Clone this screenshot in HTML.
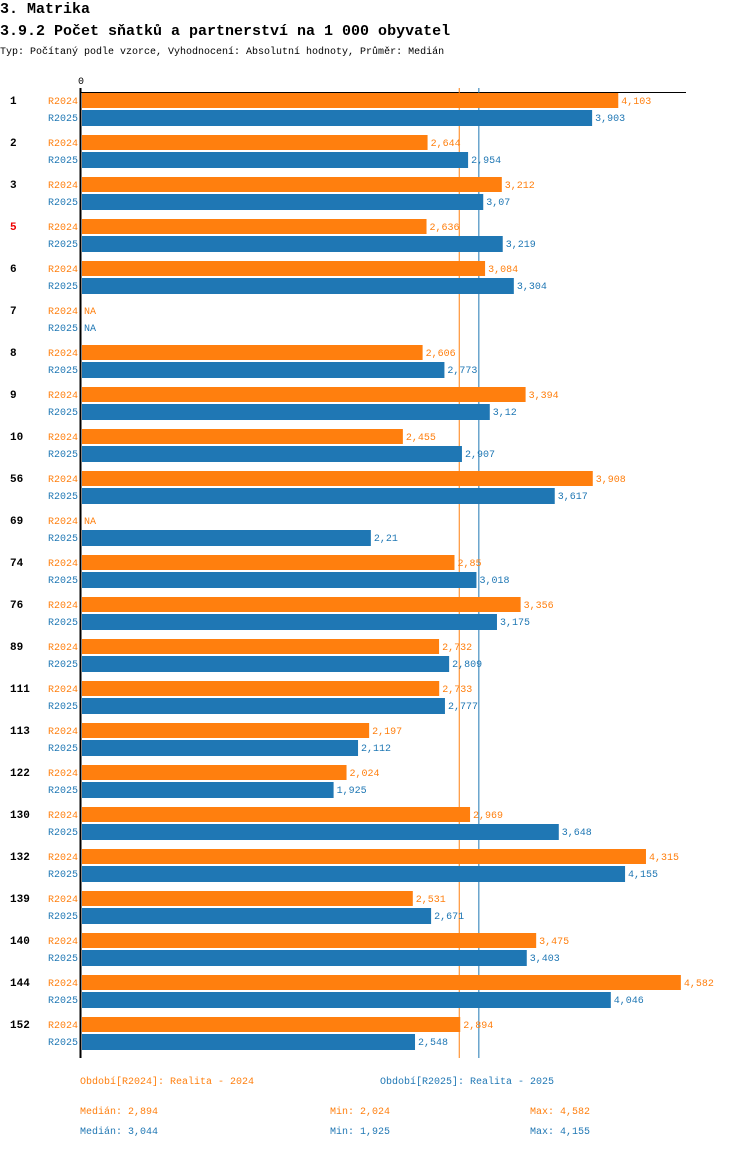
<!DOCTYPE html>
<html><head><meta charset="utf-8"><style>
body{margin:0;background:#fff;width:750px;height:1148px;overflow:hidden;font-family:"Liberation Mono",monospace}
svg text{font-family:"Liberation Mono",monospace}
</style></head><body>
<svg id="c" width="750" height="1148" xmlns="http://www.w3.org/2000/svg">
<text x="0" y="13" font-size="15" font-weight="bold">3. Matrika</text>
<text x="0" y="35" font-size="15" font-weight="bold">3.9.2 Počet sňatků a partnerství na 1 000 obyvatel</text>
<text x="0" y="54" font-size="10">Typ: Počítaný podle vzorce, Vyhodnocení: Absolutní hodnoty, Průměr: Medián</text>
<g id="g"></g>
</svg>
<script>
const categories=["1","2","3","5","6","7","8","9","10","56","69","74","76","89","111","113","122","130","132","139","140","144","152"];
const highlight=["5"];
const r2024=[4.103,2.644,3.212,2.636,3.084,null,2.606,3.394,2.455,3.908,null,2.85,3.356,2.732,2.733,2.197,2.024,2.969,4.315,2.531,3.475,4.582,2.894];
const r2025=[3.903,2.954,3.07,3.219,3.304,null,2.773,3.12,2.907,3.617,2.21,3.018,3.175,2.809,2.777,2.112,1.925,3.648,4.155,2.671,3.403,4.046,2.548];
const seriesNames=["R2024","R2025"];
const medians=[2.894,3.044];
const mins=[2.024,1.925];
const maxs=[4.582,4.155];
const legendLabels=["Období[R2024]: Realita - 2024","Období[R2025]: Realita - 2025"];
const colors=["#ff7f0e","#1f77b4"];
const X0=82,SC=130.7;
const x=v=>X0+v*SC;
const rowY=i=>93+42*i;
const g=document.getElementById('g');
const NS="http://www.w3.org/2000/svg";
function mk(t,a,txt){const e=document.createElementNS(NS,t);for(const k in a)e.setAttribute(k,a[k]);if(txt!=null)e.textContent=txt;g.appendChild(e);return e;}
const fmt=v=>String(v).replace('.',',');
let e;
e=mk('text',{x:78,y:84,'font-size':10},'0');


e=mk('line',{x1:80,y1:92.5,x2:686,y2:92.5,stroke:'#000','stroke-width':1});


medians.forEach((m,k)=>{
  e=mk('line',{x1:x(m)-1,y1:88,x2:x(m)-1,y2:1058,stroke:colors[k],'stroke-width':1});
  
  
});
const series=[r2024,r2025];
categories.forEach((c,i)=>{
  const y=rowY(i);
  e=mk('text',{x:10,y:y+11,'font-size':11,'font-weight':'bold',fill:highlight.includes(c)?'#e00':'#000'},c);
  
  
  series.forEach((s,k)=>{
    const by=y+k*17, h=k?16:15, cy=by+8;
    e=mk('text',{x:78,y:cy+3,'font-size':10,'text-anchor':'end',fill:colors[k]},seriesNames[k]);
    
    
    const v=s[i];
    if(v==null){
      e=mk('text',{x:84,y:cy+3,'font-size':10,fill:colors[k]},'NA');
      
      
    }else{
      e=mk('rect',{x:X0,y:by,width:x(v)-X0,height:h,fill:colors[k]});
      
      
      e=mk('text',{x:x(v)+3,y:cy+3,'font-size':10,fill:colors[k]},fmt(v));
      
      
    }
  });
});
e=mk('rect',{x:79.5,y:88,width:2,height:970,fill:'#000'});


legendLabels.forEach((l,k)=>{
  e=mk('text',{x:k?380:80,y:1084,'font-size':10,fill:colors[k]},l);
  
  
  const yy=1114+20*k;
  e=mk('text',{x:80,y:yy,'font-size':10,fill:colors[k]},'Medián: '+medians[k].toFixed(3).replace('.',','));
  
  
  e=mk('text',{x:330,y:yy,'font-size':10,fill:colors[k]},'Min: '+mins[k].toFixed(3).replace('.',','));
  
  
  e=mk('text',{x:530,y:yy,'font-size':10,fill:colors[k]},'Max: '+maxs[k].toFixed(3).replace('.',','));
  
  
});
</script>
</body></html>
